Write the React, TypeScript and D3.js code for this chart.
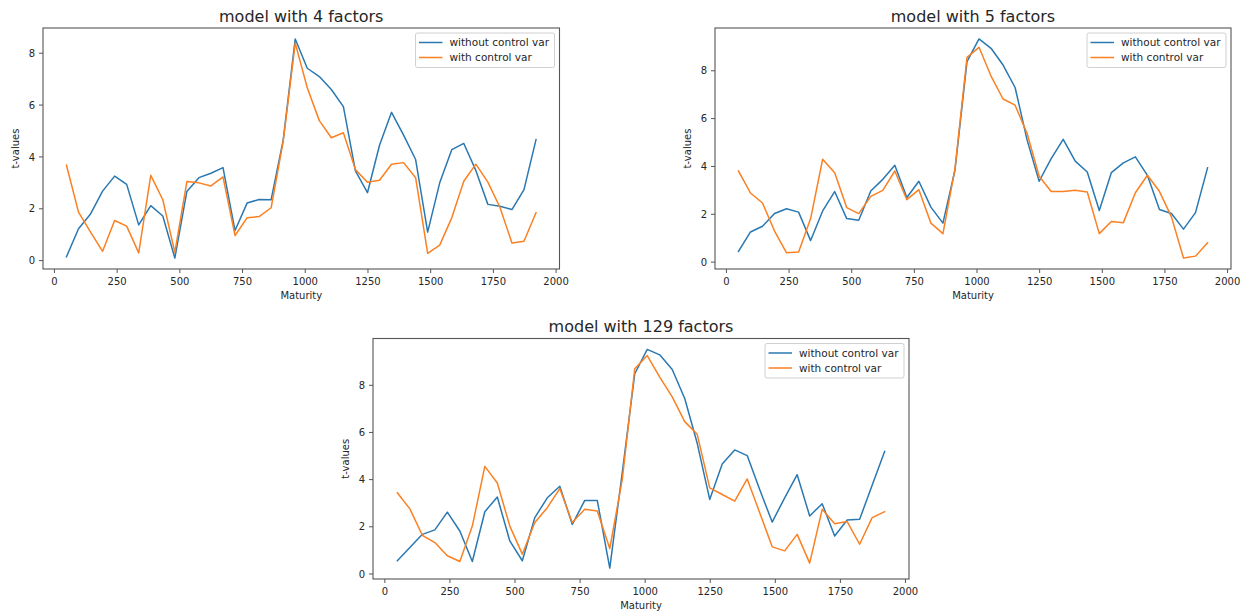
import React from 'react';
import * as d3 from 'd3';

const maturity = [48, 96, 144, 192, 240, 288, 336, 384, 432, 480, 528, 576, 624, 672, 720, 768, 816, 864, 912, 960,
  1008, 1056, 1104, 1152, 1200, 1248, 1296, 1344, 1392, 1440, 1488, 1536, 1584, 1632, 1680, 1728, 1776, 1824, 1872, 1920];

const p4Without = [0.15, 1.23, 1.8, 2.68, 3.26, 2.94, 1.38, 2.12, 1.72, 0.1, 2.67, 3.2, 3.37, 3.59, 1.16, 2.22, 2.36, 2.35, 4.65, 8.55,
  7.42, 7.1, 6.6, 5.94, 3.46, 2.62, 4.45, 5.72, 4.84, 3.9, 1.1, 3.0, 4.28, 4.52, 3.48, 2.17, 2.1, 1.97, 2.74, 4.67];
const p4With = [3.68, 1.87, 1.1, 0.36, 1.55, 1.33, 0.3, 3.29, 2.35, 0.32, 3.05, 3.0, 2.88, 3.23, 0.97, 1.65, 1.7, 2.04, 4.6, 8.39,
  6.67, 5.4, 4.74, 4.93, 3.51, 3.02, 3.1, 3.72, 3.78, 3.2, 0.28, 0.6, 1.65, 3.06, 3.72, 3.03, 2.06, 0.68, 0.75, 1.85];

const p5Without = [0.45, 1.26, 1.5, 2.03, 2.23, 2.09, 0.9, 2.14, 2.95, 1.82, 1.75, 2.97, 3.46, 4.05, 2.7, 3.38, 2.3, 1.63, 3.84, 8.38,
  9.33, 8.94, 8.24, 7.3, 5.1, 3.38, 4.33, 5.13, 4.22, 3.77, 2.16, 3.74, 4.15, 4.4, 3.63, 2.2, 2.03, 1.38, 2.07, 3.94];
const p5With = [3.81, 2.89, 2.47, 1.3, 0.39, 0.42, 1.82, 4.3, 3.74, 2.28, 2.03, 2.75, 3.0, 3.81, 2.61, 3.03, 1.63, 1.19, 3.9, 8.56,
  8.98, 7.78, 6.82, 6.56, 5.38, 3.59, 2.95, 2.95, 3.0, 2.93, 1.19, 1.7, 1.65, 2.9, 3.63, 2.96, 1.89, 0.17, 0.25, 0.81];

const p129Without = [0.56, 1.12, 1.68, 1.87, 2.62, 1.82, 0.53, 2.64, 3.26, 1.4, 0.56, 2.39, 3.23, 3.72, 2.1, 3.12, 3.12, 0.25, 4.3, 8.49,
  9.52, 9.29, 8.67, 7.44, 5.54, 3.16, 4.66, 5.26, 5.02, 3.58, 2.2, 3.23, 4.21, 2.46, 2.98, 1.61, 2.29, 2.32, 3.76, 5.19];
const p129With = [3.44, 2.76, 1.64, 1.33, 0.77, 0.53, 2.03, 4.56, 3.86, 2.03, 0.84, 2.18, 2.81, 3.62, 2.18, 2.74, 2.67, 1.08, 4.0, 8.7,
  9.26, 8.35, 7.51, 6.46, 5.92, 3.65, 3.37, 3.09, 4.03, 2.6, 1.15, 0.98, 1.68, 0.46, 2.74, 2.13, 2.22, 1.26, 2.39, 2.64];

const titles = ['model with 4 factors', 'model with 5 factors', 'model with 129 factors'];
const seriesNames = ['without control var', 'with control var'];
const xTicks = [0, 250, 500, 750, 1000, 1250, 1500, 1750, 2000];
const yTicks = [0, 2, 4, 6, 8];
const xLabel = 'Maturity';
const yLabel = 't-values';

const COLORS = ['#2a78b2', '#fb8022'];
const FONT = '"DejaVu Sans", sans-serif';
const TEXT = '#262626';
const SPINE = '#555555';

type Box = { x0: number; x1: number; y0: number; y1: number };

const panels: { title: string; a: number[]; b: number[]; box: Box }[] = [
  { title: titles[0], a: p4Without, b: p4With, box: { x0: 43, x1: 559.5, y0: 28, y1: 269 } },
  { title: titles[1], a: p5Without, b: p5With, box: { x0: 715, x1: 1231, y0: 28, y1: 269 } },
  { title: titles[2], a: p129Without, b: p129With, box: { x0: 373, x1: 909, y0: 338.5, y1: 579 } },
];

function padded(vals: number[]): [number, number] {
  const [lo, hi] = d3.extent(vals) as [number, number];
  const r = hi - lo;
  return [lo - 0.05 * r, hi + 0.05 * r];
}

function Panel({ title, a, b, box }: { title: string; a: number[]; b: number[]; box: Box }) {
  const x = d3.scaleLinear().domain(padded(maturity)).range([box.x0, box.x1]);
  const y = d3.scaleLinear().domain(padded([...a, ...b])).range([box.y1, box.y0]);
  const line = d3.line<number>().x((_, i) => x(maturity[i])).y((d) => y(d));
  const midX = (box.x0 + box.x1) / 2;
  const midY = (box.y0 + box.y1) / 2;
  const legW = 139;
  const legH = 34.5;
  const lx = box.x1 - 5 - legW;
  const ly = box.y0 + 5;
  return (
    <g>
      <text x={midX} y={box.y0 - 6.5} textAnchor="middle" fontSize={16} fill={TEXT} fontFamily={FONT}>{title}</text>
      <defs>
        <clipPath id={'clip-' + box.x0}>
          <rect x={box.x0} y={box.y0} width={box.x1 - box.x0} height={box.y1 - box.y0} />
        </clipPath>
      </defs>
      <g clipPath={`url(#clip-${box.x0})`}>
        {[a, b].map((s, i) => (
          <path key={i} d={line(s) || ''} fill="none" stroke={COLORS[i]} strokeWidth={1.5} strokeLinejoin="round" strokeLinecap="square" />
        ))}
      </g>
      <rect x={box.x0} y={box.y0} width={box.x1 - box.x0} height={box.y1 - box.y0} fill="none" stroke={SPINE} strokeWidth={1.1} />
      {xTicks.map((t) => (
        <g key={'x' + t}>
          <line x1={x(t)} x2={x(t)} y1={box.y1} y2={box.y1 + 4} stroke={SPINE} strokeWidth={1} />
          <text x={x(t)} y={box.y1 + 15.8} textAnchor="middle" fontSize={10} fill={TEXT} fontFamily={FONT}>{t}</text>
        </g>
      ))}
      {yTicks.map((t) => (
        <g key={'y' + t}>
          <line x1={box.x0 - 4} x2={box.x0} y1={y(t)} y2={y(t)} stroke={SPINE} strokeWidth={1} />
          <text x={box.x0 - 8} y={y(t) + 3.6} textAnchor="end" fontSize={10} fill={TEXT} fontFamily={FONT}>{t}</text>
        </g>
      ))}
      <text x={midX} y={box.y1 + 29.8} textAnchor="middle" fontSize={10} fill={TEXT} fontFamily={FONT}>{xLabel}</text>
      <text transform={`translate(${box.x0 - 24},${midY}) rotate(-90)`} textAnchor="middle" fontSize={10} fill={TEXT} fontFamily={FONT}>{yLabel}</text>
      <rect x={lx} y={ly} width={legW} height={legH} rx={2} fill="#ffffff" fillOpacity={0.8} stroke="#d0d0d0" strokeWidth={1} />
      {seriesNames.map((n, i) => (
        <g key={n}>
          <line x1={lx + 3.5} x2={lx + 27} y1={ly + 9.5 + i * 15} y2={ly + 9.5 + i * 15} stroke={COLORS[i]} strokeWidth={1.5} />
          <text x={lx + 34} y={ly + 13.3 + i * 15} fontSize={10.5} fill={TEXT} fontFamily={FONT}>{n}</text>
        </g>
      ))}
    </g>
  );
}

export default function App() {
  return (
    <svg width={1252} height={616} style={{ position: 'absolute', left: 0, top: 0, background: '#ffffff' }}>
      <rect x={0} y={0} width={1252} height={616} fill="#ffffff" />
      {panels.map((p) => (
        <Panel key={p.title} {...p} />
      ))}
    </svg>
  );
}
